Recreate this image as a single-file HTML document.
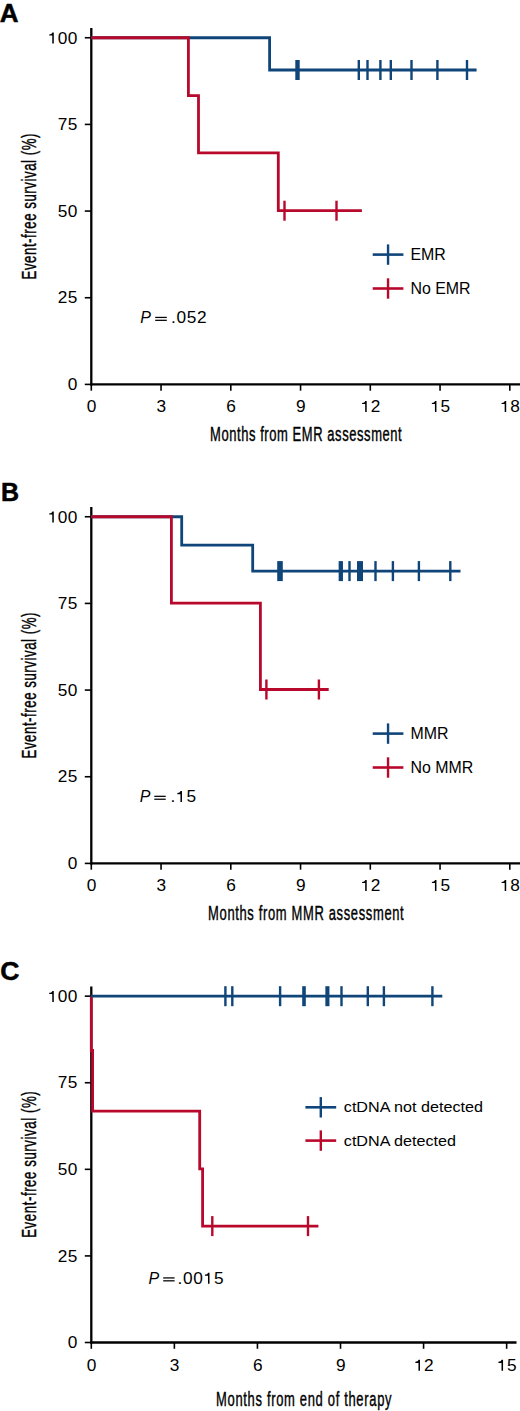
<!DOCTYPE html><html><head><meta charset="utf-8"><style>html,body{margin:0;padding:0;background:#fff;}svg{display:block;}text{font-family:"Liberation Sans",sans-serif;fill:#000;}</style></head><body>
<svg width="520" height="1411" viewBox="0 0 520 1411">
<rect width="520" height="1411" fill="#fff"/>
<text x="-0.3" y="21.8" font-size="26" font-weight="bold" fill="#000" stroke="#000" stroke-width="0.5">A</text>
<line x1="91.3" y1="28" x2="91.3" y2="385.4" stroke="#000" stroke-width="2.3"/>
<line x1="90.3" y1="384.4" x2="520" y2="384.4" stroke="#000" stroke-width="2.3"/>
<line x1="84.8" y1="384.40" x2="91.3" y2="384.40" stroke="#000" stroke-width="1.6"/>
<text transform="translate(67.79,390.15) scale(1.08,1)" font-size="16" letter-spacing="0.3">0</text>
<line x1="84.8" y1="297.74" x2="91.3" y2="297.74" stroke="#000" stroke-width="1.6"/>
<text transform="translate(57.86,303.49) scale(1.08,1)" font-size="16" letter-spacing="0.3">25</text>
<line x1="84.8" y1="211.07" x2="91.3" y2="211.07" stroke="#000" stroke-width="1.6"/>
<text transform="translate(57.86,216.82) scale(1.08,1)" font-size="16" letter-spacing="0.3">50</text>
<line x1="84.8" y1="124.41" x2="91.3" y2="124.41" stroke="#000" stroke-width="1.6"/>
<text transform="translate(57.86,130.16) scale(1.08,1)" font-size="16" letter-spacing="0.3">75</text>
<line x1="84.8" y1="37.75" x2="91.3" y2="37.75" stroke="#000" stroke-width="1.6"/>
<text transform="translate(47.92,43.50) scale(1.08,1)" font-size="16" letter-spacing="0.3"> 00</text>
<path d="M515,0 V1010 H150 V1165 C350,1170 480,1250 530,1409 H696 V0 Z" fill="#000" transform="translate(47.92,43.50) scale(0.00844,-0.00781)"/>
<line x1="91.30" y1="384.4" x2="91.30" y2="390.70" stroke="#000" stroke-width="1.6"/>
<text transform="translate(86.79,412.00) scale(1.08,1)" font-size="16" letter-spacing="0.3">0</text>
<line x1="161.05" y1="384.4" x2="161.05" y2="390.70" stroke="#000" stroke-width="1.6"/>
<text transform="translate(156.54,412.00) scale(1.08,1)" font-size="16" letter-spacing="0.3">3</text>
<line x1="230.80" y1="384.4" x2="230.80" y2="390.70" stroke="#000" stroke-width="1.6"/>
<text transform="translate(226.29,412.00) scale(1.08,1)" font-size="16" letter-spacing="0.3">6</text>
<line x1="300.55" y1="384.4" x2="300.55" y2="390.70" stroke="#000" stroke-width="1.6"/>
<text transform="translate(296.04,412.00) scale(1.08,1)" font-size="16" letter-spacing="0.3">9</text>
<line x1="370.30" y1="384.4" x2="370.30" y2="390.70" stroke="#000" stroke-width="1.6"/>
<text transform="translate(360.83,412.00) scale(1.08,1)" font-size="16" letter-spacing="0.3"> 2</text>
<path d="M515,0 V1010 H150 V1165 C350,1170 480,1250 530,1409 H696 V0 Z" fill="#000" transform="translate(360.83,412.00) scale(0.00844,-0.00781)"/>
<line x1="440.05" y1="384.4" x2="440.05" y2="390.70" stroke="#000" stroke-width="1.6"/>
<text transform="translate(430.58,412.00) scale(1.08,1)" font-size="16" letter-spacing="0.3"> 5</text>
<path d="M515,0 V1010 H150 V1165 C350,1170 480,1250 530,1409 H696 V0 Z" fill="#000" transform="translate(430.58,412.00) scale(0.00844,-0.00781)"/>
<line x1="509.80" y1="384.4" x2="509.80" y2="390.70" stroke="#000" stroke-width="1.6"/>
<text transform="translate(500.33,412.00) scale(1.08,1)" font-size="16" letter-spacing="0.3"> 8</text>
<path d="M515,0 V1010 H150 V1165 C350,1170 480,1250 530,1409 H696 V0 Z" fill="#000" transform="translate(500.33,412.00) scale(0.00844,-0.00781)"/>
<path d="M91.3,37.75 H269.6 V70 H476.6" fill="none" stroke="#0f4578" stroke-width="2.8" stroke-linejoin="miter" stroke-linecap="butt"/>
<rect x="295.30" y="60.00" width="4.4" height="20" fill="#0f4578"/>
<rect x="357.60" y="60.00" width="2.4" height="20" fill="#0f4578"/>
<rect x="366.30" y="60.00" width="2.4" height="20" fill="#0f4578"/>
<rect x="379.20" y="60.00" width="2.4" height="20" fill="#0f4578"/>
<rect x="389.60" y="60.00" width="2.4" height="20" fill="#0f4578"/>
<rect x="410.30" y="60.00" width="2.4" height="20" fill="#0f4578"/>
<rect x="436.20" y="60.00" width="2.4" height="20" fill="#0f4578"/>
<rect x="465.80" y="60.00" width="2.4" height="20" fill="#0f4578"/>
<path d="M91.3,37.75 H188.4 V95.6 H198.5 V152.8 H278.3 V210.7 H361.9" fill="none" stroke="#b8082c" stroke-width="2.8" stroke-linejoin="miter" stroke-linecap="butt"/>
<rect x="283.30" y="200.70" width="2.4" height="20" fill="#b8082c"/>
<rect x="335.30" y="200.70" width="2.4" height="20" fill="#b8082c"/>
<line x1="372.7" y1="254.6" x2="403.4" y2="254.6" stroke="#0f4578" stroke-width="2.6"/>
<rect x="386.85" y="244.40" width="2.4" height="20.4" fill="#0f4578"/>
<text transform="translate(410.4,260.3) scale(0.995,0.985)" font-size="16">EMR</text>
<line x1="372.7" y1="288.5" x2="403.4" y2="288.5" stroke="#b8082c" stroke-width="2.6"/>
<rect x="386.85" y="278.30" width="2.4" height="20.4" fill="#b8082c"/>
<text transform="translate(410.4,293.6) scale(0.995,0.985)" font-size="16">No EMR</text>
<text x="140.20" y="323.2" font-size="16" font-style="italic">P</text>
<rect x="155.2" y="316.80" width="11.60" height="1.25" fill="#000"/>
<rect x="155.2" y="319.70" width="11.60" height="1.25" fill="#000"/>
<text transform="translate(170.90,323.20) scale(1.08,1)" font-size="16" letter-spacing="0.65">.052</text>
<text transform="translate(210,440.7) scale(0.665,1)" x="0" y="0" font-size="19.5" stroke="#000" stroke-width="0.4" textLength="288.27" lengthAdjust="spacing">Months from EMR assessment</text>
<text transform="translate(35.6,279.5) rotate(-90) scale(0.665,1)" x="0" y="0" font-size="20" stroke="#000" stroke-width="0.4" textLength="219.55" lengthAdjust="spacing">Event-free survival (%)</text>
<text x="0.9" y="500.9" font-size="25" font-weight="bold" fill="#000" stroke="#000" stroke-width="0.5">B</text>
<line x1="91.3" y1="507" x2="91.3" y2="864.4" stroke="#000" stroke-width="2.3"/>
<line x1="90.3" y1="863.4" x2="520" y2="863.4" stroke="#000" stroke-width="2.3"/>
<line x1="84.8" y1="863.40" x2="91.3" y2="863.40" stroke="#000" stroke-width="1.6"/>
<text transform="translate(67.79,869.15) scale(1.08,1)" font-size="16" letter-spacing="0.3">0</text>
<line x1="84.8" y1="776.74" x2="91.3" y2="776.74" stroke="#000" stroke-width="1.6"/>
<text transform="translate(57.86,782.49) scale(1.08,1)" font-size="16" letter-spacing="0.3">25</text>
<line x1="84.8" y1="690.08" x2="91.3" y2="690.08" stroke="#000" stroke-width="1.6"/>
<text transform="translate(57.86,695.83) scale(1.08,1)" font-size="16" letter-spacing="0.3">50</text>
<line x1="84.8" y1="603.41" x2="91.3" y2="603.41" stroke="#000" stroke-width="1.6"/>
<text transform="translate(57.86,609.16) scale(1.08,1)" font-size="16" letter-spacing="0.3">75</text>
<line x1="84.8" y1="516.75" x2="91.3" y2="516.75" stroke="#000" stroke-width="1.6"/>
<text transform="translate(47.92,522.50) scale(1.08,1)" font-size="16" letter-spacing="0.3"> 00</text>
<path d="M515,0 V1010 H150 V1165 C350,1170 480,1250 530,1409 H696 V0 Z" fill="#000" transform="translate(47.92,522.50) scale(0.00844,-0.00781)"/>
<line x1="91.30" y1="863.4" x2="91.30" y2="869.70" stroke="#000" stroke-width="1.6"/>
<text transform="translate(86.79,891.00) scale(1.08,1)" font-size="16" letter-spacing="0.3">0</text>
<line x1="161.05" y1="863.4" x2="161.05" y2="869.70" stroke="#000" stroke-width="1.6"/>
<text transform="translate(156.54,891.00) scale(1.08,1)" font-size="16" letter-spacing="0.3">3</text>
<line x1="230.80" y1="863.4" x2="230.80" y2="869.70" stroke="#000" stroke-width="1.6"/>
<text transform="translate(226.29,891.00) scale(1.08,1)" font-size="16" letter-spacing="0.3">6</text>
<line x1="300.55" y1="863.4" x2="300.55" y2="869.70" stroke="#000" stroke-width="1.6"/>
<text transform="translate(296.04,891.00) scale(1.08,1)" font-size="16" letter-spacing="0.3">9</text>
<line x1="370.30" y1="863.4" x2="370.30" y2="869.70" stroke="#000" stroke-width="1.6"/>
<text transform="translate(360.83,891.00) scale(1.08,1)" font-size="16" letter-spacing="0.3"> 2</text>
<path d="M515,0 V1010 H150 V1165 C350,1170 480,1250 530,1409 H696 V0 Z" fill="#000" transform="translate(360.83,891.00) scale(0.00844,-0.00781)"/>
<line x1="440.05" y1="863.4" x2="440.05" y2="869.70" stroke="#000" stroke-width="1.6"/>
<text transform="translate(430.58,891.00) scale(1.08,1)" font-size="16" letter-spacing="0.3"> 5</text>
<path d="M515,0 V1010 H150 V1165 C350,1170 480,1250 530,1409 H696 V0 Z" fill="#000" transform="translate(430.58,891.00) scale(0.00844,-0.00781)"/>
<line x1="509.80" y1="863.4" x2="509.80" y2="869.70" stroke="#000" stroke-width="1.6"/>
<text transform="translate(500.33,891.00) scale(1.08,1)" font-size="16" letter-spacing="0.3"> 8</text>
<path d="M515,0 V1010 H150 V1165 C350,1170 480,1250 530,1409 H696 V0 Z" fill="#000" transform="translate(500.33,891.00) scale(0.00844,-0.00781)"/>
<path d="M91.3,516.75 H181.7 V545.1 H252.7 V571.1 H460.5" fill="none" stroke="#0f4578" stroke-width="2.8" stroke-linejoin="miter" stroke-linecap="butt"/>
<rect x="277.20" y="561.10" width="5.6" height="20" fill="#0f4578"/>
<rect x="338.65" y="561.10" width="4.3" height="20" fill="#0f4578"/>
<rect x="348.30" y="561.10" width="2.4" height="20" fill="#0f4578"/>
<rect x="357.00" y="561.10" width="6" height="20" fill="#0f4578"/>
<rect x="374.30" y="561.10" width="2.4" height="20" fill="#0f4578"/>
<rect x="391.70" y="561.10" width="2.4" height="20" fill="#0f4578"/>
<rect x="417.70" y="561.10" width="2.4" height="20" fill="#0f4578"/>
<rect x="449.10" y="561.10" width="2.4" height="20" fill="#0f4578"/>
<path d="M91.3,516.75 H171.4 V603.2 H260.4 V689.5 H328.7" fill="none" stroke="#b8082c" stroke-width="2.8" stroke-linejoin="miter" stroke-linecap="butt"/>
<rect x="265.20" y="679.50" width="2.4" height="20" fill="#b8082c"/>
<rect x="317.70" y="679.50" width="2.4" height="20" fill="#b8082c"/>
<line x1="372.7" y1="733.6" x2="403.4" y2="733.6" stroke="#0f4578" stroke-width="2.6"/>
<rect x="386.85" y="723.40" width="2.4" height="20.4" fill="#0f4578"/>
<text transform="translate(410.4,739.3) scale(0.995,0.985)" font-size="16">MMR</text>
<line x1="372.7" y1="767.5" x2="403.4" y2="767.5" stroke="#b8082c" stroke-width="2.6"/>
<rect x="386.85" y="757.30" width="2.4" height="20.4" fill="#b8082c"/>
<text transform="translate(410.4,772.6) scale(0.995,0.985)" font-size="16">No MMR</text>
<text x="139.80" y="802.1" font-size="16" font-style="italic">P</text>
<rect x="154.3" y="795.70" width="11.40" height="1.25" fill="#000"/>
<rect x="154.3" y="798.60" width="11.40" height="1.25" fill="#000"/>
<text transform="translate(170.60,802.10) scale(1.08,1)" font-size="16" letter-spacing="0.65">. 5</text>
<path d="M515,0 V1010 H150 V1165 C350,1170 480,1250 530,1409 H696 V0 Z" fill="#000" transform="translate(176.10,802.10) scale(0.00844,-0.00781)"/>
<text transform="translate(208.1,919.6) scale(0.665,1)" x="0" y="0" font-size="19.5" stroke="#000" stroke-width="0.4" textLength="294.14" lengthAdjust="spacing">Months from MMR assessment</text>
<text transform="translate(35.6,758.5) rotate(-90) scale(0.665,1)" x="0" y="0" font-size="20" stroke="#000" stroke-width="0.4" textLength="219.55" lengthAdjust="spacing">Event-free survival (%)</text>
<text x="0.2" y="980.2" font-size="26.5" font-weight="bold" fill="#000" stroke="#000" stroke-width="0.5">C</text>
<line x1="91.3" y1="986.4" x2="91.3" y2="1343.5" stroke="#000" stroke-width="2.3"/>
<line x1="90.3" y1="1342.5" x2="516.5" y2="1342.5" stroke="#000" stroke-width="2.3"/>
<line x1="84.8" y1="1342.50" x2="91.3" y2="1342.50" stroke="#000" stroke-width="1.6"/>
<text transform="translate(67.79,1348.25) scale(1.08,1)" font-size="16" letter-spacing="0.3">0</text>
<line x1="84.8" y1="1255.91" x2="91.3" y2="1255.91" stroke="#000" stroke-width="1.6"/>
<text transform="translate(57.86,1261.66) scale(1.08,1)" font-size="16" letter-spacing="0.3">25</text>
<line x1="84.8" y1="1169.33" x2="91.3" y2="1169.33" stroke="#000" stroke-width="1.6"/>
<text transform="translate(57.86,1175.08) scale(1.08,1)" font-size="16" letter-spacing="0.3">50</text>
<line x1="84.8" y1="1082.74" x2="91.3" y2="1082.74" stroke="#000" stroke-width="1.6"/>
<text transform="translate(57.86,1088.49) scale(1.08,1)" font-size="16" letter-spacing="0.3">75</text>
<line x1="84.8" y1="996.15" x2="91.3" y2="996.15" stroke="#000" stroke-width="1.6"/>
<text transform="translate(47.92,1001.90) scale(1.08,1)" font-size="16" letter-spacing="0.3"> 00</text>
<path d="M515,0 V1010 H150 V1165 C350,1170 480,1250 530,1409 H696 V0 Z" fill="#000" transform="translate(47.92,1001.90) scale(0.00844,-0.00781)"/>
<line x1="91.30" y1="1342.5" x2="91.30" y2="1348.80" stroke="#000" stroke-width="1.6"/>
<text transform="translate(86.79,1370.80) scale(1.08,1)" font-size="16" letter-spacing="0.3">0</text>
<line x1="174.37" y1="1342.5" x2="174.37" y2="1348.80" stroke="#000" stroke-width="1.6"/>
<text transform="translate(169.86,1370.80) scale(1.08,1)" font-size="16" letter-spacing="0.3">3</text>
<line x1="257.44" y1="1342.5" x2="257.44" y2="1348.80" stroke="#000" stroke-width="1.6"/>
<text transform="translate(252.93,1370.80) scale(1.08,1)" font-size="16" letter-spacing="0.3">6</text>
<line x1="340.51" y1="1342.5" x2="340.51" y2="1348.80" stroke="#000" stroke-width="1.6"/>
<text transform="translate(336.00,1370.80) scale(1.08,1)" font-size="16" letter-spacing="0.3">9</text>
<line x1="423.58" y1="1342.5" x2="423.58" y2="1348.80" stroke="#000" stroke-width="1.6"/>
<text transform="translate(414.11,1370.80) scale(1.08,1)" font-size="16" letter-spacing="0.3"> 2</text>
<path d="M515,0 V1010 H150 V1165 C350,1170 480,1250 530,1409 H696 V0 Z" fill="#000" transform="translate(414.11,1370.80) scale(0.00844,-0.00781)"/>
<line x1="506.65" y1="1342.5" x2="506.65" y2="1348.80" stroke="#000" stroke-width="1.6"/>
<text transform="translate(497.18,1370.80) scale(1.08,1)" font-size="16" letter-spacing="0.3"> 5</text>
<path d="M515,0 V1010 H150 V1165 C350,1170 480,1250 530,1409 H696 V0 Z" fill="#000" transform="translate(497.18,1370.80) scale(0.00844,-0.00781)"/>
<path d="M91.3,996.2 V1050.5 H92.6 V1111.2 H199.7 V1168.9 H202.6 V1226.1 H318.4" fill="none" stroke="#b8082c" stroke-width="2.8" stroke-linejoin="miter" stroke-linecap="butt"/>
<rect x="211.10" y="1216.10" width="2.4" height="20" fill="#b8082c"/>
<rect x="306.80" y="1216.10" width="2.4" height="20" fill="#b8082c"/>
<path d="M91.0,996.2 H442.3" fill="none" stroke="#0f4578" stroke-width="2.8" stroke-linejoin="miter" stroke-linecap="butt"/>
<rect x="224.20" y="986.20" width="2.4" height="20" fill="#0f4578"/>
<rect x="231.10" y="986.20" width="2.4" height="20" fill="#0f4578"/>
<rect x="278.90" y="986.20" width="2.4" height="20" fill="#0f4578"/>
<rect x="302.20" y="986.20" width="3.6" height="20" fill="#0f4578"/>
<rect x="325.35" y="986.20" width="4.1" height="20" fill="#0f4578"/>
<rect x="340.30" y="986.20" width="2.4" height="20" fill="#0f4578"/>
<rect x="366.60" y="986.20" width="2.4" height="20" fill="#0f4578"/>
<rect x="382.70" y="986.20" width="2.4" height="20" fill="#0f4578"/>
<rect x="431.20" y="986.20" width="2.4" height="20" fill="#0f4578"/>
<line x1="305.4" y1="1107.3" x2="336.2" y2="1107.3" stroke="#0f4578" stroke-width="2.6"/>
<rect x="319.60" y="1097.10" width="2.4" height="20.4" fill="#0f4578"/>
<text transform="translate(343.8,1112.4) scale(1.01,0.965)" font-size="16">ctDNA not detected</text>
<line x1="305.4" y1="1140.6" x2="336.2" y2="1140.6" stroke="#b8082c" stroke-width="2.6"/>
<rect x="319.60" y="1130.40" width="2.4" height="20.4" fill="#b8082c"/>
<text transform="translate(343.8,1145.9) scale(1.01,0.965)" font-size="16">ctDNA detected</text>
<text x="148.40" y="1283.7" font-size="16" font-style="italic">P</text>
<rect x="163.2" y="1277.30" width="11.40" height="1.25" fill="#000"/>
<rect x="163.2" y="1280.20" width="11.40" height="1.25" fill="#000"/>
<text transform="translate(177.50,1283.70) scale(1.08,1)" font-size="16" letter-spacing="0.65">.00 5</text>
<path d="M515,0 V1010 H150 V1165 C350,1170 480,1250 530,1409 H696 V0 Z" fill="#000" transform="translate(203.63,1283.70) scale(0.00844,-0.00781)"/>
<text transform="translate(216.1,1405.8) scale(0.665,1)" x="0" y="0" font-size="19.5" stroke="#000" stroke-width="0.4" textLength="263.76" lengthAdjust="spacing">Months from end of therapy</text>
<text transform="translate(35.6,1237.8) rotate(-90) scale(0.665,1)" x="0" y="0" font-size="20" stroke="#000" stroke-width="0.4" textLength="220.30" lengthAdjust="spacing">Event-free survival (%)</text>
</svg></body></html>
